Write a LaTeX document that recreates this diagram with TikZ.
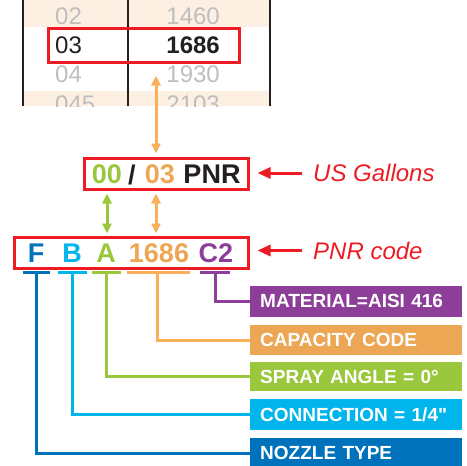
\documentclass[tikz,border=0pt]{standalone}
\usepackage{fontspec}
\setmainfont{Liberation Sans}
\usetikzlibrary{arrows.meta}
\definecolor{codeRed}{RGB}{237,28,36}
\definecolor{codeNavy}{RGB}{0,114,188}
\definecolor{codeCyan}{RGB}{0,180,236}
\definecolor{codeGreen}{RGB}{154,199,60}
\definecolor{codeOrange}{RGB}{236,166,84}
\definecolor{codeOrangeLine}{RGB}{250,176,90}
\definecolor{codePurple}{RGB}{140,62,152}
\definecolor{tableBeige}{RGB}{253,240,226}
\definecolor{tableGray}{RGB}{190,190,190}
\definecolor{tableInk}{RGB}{35,31,32}

\begin{document}
\begin{tikzpicture}[x=1pt,y=-1pt,
    redbox/.style={draw=codeRed, line width=3pt, inner sep=0pt},
    cell/.style={font=\fontsize{24}{28}\selectfont, text=tableGray, inner sep=0pt},
    letter/.style={font=\fontsize{27}{30}\selectfont\bfseries, inner sep=0pt},
    tag/.style={font=\fontsize{24}{28}\selectfont\itshape, text=codeRed, anchor=west, inner sep=0pt},
    tagarrow/.style={draw=codeRed, line width=3pt, -{Triangle[length=13pt,width=11pt]}},
    link/.style={line width=3pt, {Triangle[length=10pt,width=9pt]}-{Triangle[length=10pt,width=9pt]}},
    legend/.style={anchor=west, minimum height=31pt, text width=192pt, inner xsep=10pt, inner ysep=0pt,
      align=left, text=white, font=\fontsize{19}{22}\selectfont\bfseries},
    lead/.style={line width=3pt}]
        \useasboundingbox (0,0) rectangle (467,466);
        % capacity table
        \fill[tableBeige] (23,0) rectangle (270,27);
        \fill[tableBeige] (23,91) rectangle (270,106);
        \begin{scope}
          \clip (23,0) rectangle (270,106);
          \node[cell, anchor=west] (no02) at (55,16) {02};
          \node[cell, anchor=east] (cap02) at (220,16) {1460};
          \node[cell, anchor=west, text=tableInk] (no03) at (55,45) {03};
          \node[cell, anchor=east, text=tableInk, font=\fontsize{24}{28}\selectfont\bfseries] (cap03) at (220,45) {1686};
          \node[cell, anchor=west] (no04) at (55,74) {04};
          \node[cell, anchor=east] (cap04) at (220,74) {1930};
          \node[cell, anchor=west] (no045) at (55,104) {045};
          \node[cell, anchor=east] (cap045) at (220,104) {2103};
        \end{scope}
        \draw[tableInk, line width=1.5pt] (23,0) -- (23,106);
        \draw[tableInk, line width=1.5pt] (128,0) -- (128,106);
        \draw[tableInk, line width=1.5pt] (270,0) -- (270,106);
        \node[redbox, minimum width=191pt, minimum height=34pt] (row03) at (143.5,45) {};

        % gallons code
        \node[redbox, minimum width=164pt, minimum height=31pt] (galbox) at (166,173.5) {};
        \node[letter, text=codeGreen] (gal00) at (107,174.5) {00};
        \node[letter, text=tableInk] (galslash) at (132,174.5) {/};
        \node[letter, text=codeOrange] (gal03) at (160,174.5) {03};
        \node[letter, text=tableInk] (galpnr) at (212,174.5) {PNR};
        \coordinate (capLink) at (156,174.5);

        % pnr code
        \node[redbox, minimum width=234pt, minimum height=31pt] (codebox) at (131,252.5) {};
        \node[letter, text=codeNavy] (codeF) at (36,253.5) {F};
        \node[letter, text=codeCyan] (codeB) at (72,253.5) {B};
        \node[letter, text=codeGreen] (codeA) at (106,253.5) {A};
        \node[letter, text=codeOrange] (codeCap) at (159,253.5) {1686};
        \node[letter, text=codePurple] (codeC2) at (216,253.5) {C2};

        % links between the rows
        \draw[link, codeOrangeLine, shorten <=3pt, shorten >=12pt] (galbox.north -| capLink) -- (row03.south -| capLink);
        \draw[link, codeOrangeLine, shorten <=3pt, shorten >=2pt] (galbox.south -| capLink) -- (codebox.north -| capLink);
        \draw[link, codeGreen, shorten <=3pt, shorten >=2pt] (galbox.south -| gal00) -- (codebox.north -| gal00);

        % red tags
        \node[tag] (tagGal) at (313,173) {US Gallons};
        \node[tag] (tagPnr) at (313,250.5) {PNR code};
        \draw[tagarrow, shorten <=11pt, shorten >=8pt] (tagGal.west) -- (tagGal.west -| galbox.east);
        \draw[tagarrow, shorten <=11pt, shorten >=8pt] (tagPnr.west) -- (tagPnr.west -| codebox.east);

        % legend boxes
        \node[legend, fill=codePurple] (matBox) at (250,301) {MATERIAL=AISI 416};
        \node[legend, fill=codeOrange, minimum height=30pt] (capBox) at (250,340) {CAPACITY CODE};
        \node[legend, fill=codeGreen, minimum height=29pt] (angBox) at (250,376.5) {SPRAY ANGLE = 0°};
        \node[legend, fill=codeCyan] (conBox) at (250,414.5) {CONNECTION = 1/4{\addfontfeatures{Ligatures=TeXOff}"}};
        \node[legend, fill=codeNavy] (typBox) at (250,453) {NOZZLE TYPE};

        % leads from the letters
        \coordinate (barF) at (36,272);
        \coordinate (barB) at (72,272);
        \coordinate (barA) at (106,272);
        \coordinate (barCap) at (157,272);
        \coordinate (barC2) at (215,272);
        \draw[lead, codeNavy] ([xshift=-13pt]barF) -- ([xshift=14pt]barF);
        \draw[lead, codeNavy] (barF) |- (typBox.west);
        \draw[lead, codeCyan] ([xshift=-14pt]barB) -- ([xshift=15pt]barB);
        \draw[lead, codeCyan] (barB) |- (conBox.west);
        \draw[lead, codeGreen] ([xshift=-14pt]barA) -- ([xshift=15pt]barA);
        \draw[lead, codeGreen] (barA) |- (angBox.west);
        \draw[lead, codeOrangeLine] ([xshift=-30pt]barCap) -- ([xshift=33pt]barCap);
        \draw[lead, codeOrangeLine] (barCap) |- (capBox.west);
        \draw[lead, codePurple] ([xshift=-15pt]barC2) -- ([xshift=15pt]barC2);
        \draw[lead, codePurple] (barC2) |- (matBox.west);
      \end{tikzpicture}
\end{document}
